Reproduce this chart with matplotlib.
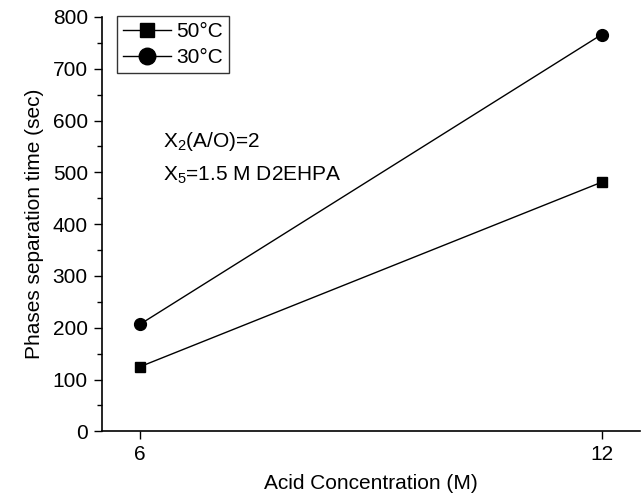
import matplotlib.pyplot as plt
from matplotlib.ticker import MultipleLocator

plt.rcParams["font.family"] = ["Liberation Sans", "DejaVu Sans"]
plt.rcParams["mathtext.fontset"] = "custom"
plt.rcParams["mathtext.rm"] = "Liberation Sans"
plt.rcParams["mathtext.it"] = "Liberation Sans:italic"

# acid concentration (M) and phase separation time (sec)
acid_conc = [6, 12]
time_50C = [125, 481]
time_30C = [207, 766]

fig = plt.figure(figsize=(6.44, 4.97), dpi=100)
ax = fig.add_axes([0.158, 0.132, 0.836, 0.834])

ax.plot(acid_conc, time_50C, color="black", lw=1, marker="s", ms=7.5, label="50°C")
ax.plot(acid_conc, time_30C, color="black", lw=1, marker="o", ms=8.5, label="30°C")

ax.set_xlim(5.5, 12.5)
ax.set_ylim(0, 800)
ax.set_xticks(acid_conc)
ax.yaxis.set_major_locator(MultipleLocator(100))
ax.yaxis.set_minor_locator(MultipleLocator(50))

for side in ["top", "right"]:
    ax.spines[side].set_visible(False)
ax.spines["left"].set_linewidth(1.2)
ax.spines["bottom"].set_linewidth(1.2)
ax.tick_params(which="major", direction="out", length=6, width=1, labelsize=15, pad=4)
ax.tick_params(which="minor", direction="out", length=3.5, width=1)

ax.set_xlabel("Acid Concentration (M)", fontsize=15, labelpad=7)
ax.set_ylabel("Phases separation time (sec)", fontsize=15, labelpad=6)

ax.text(6.29, 548, "X$_2$(A/O)=2", fontsize=15, va="baseline")
ax.text(6.29, 484, "X$_5$=1.5 M D2EHPA", fontsize=15, va="baseline")

leg = ax.legend(loc="upper left", bbox_to_anchor=(0.028, 1.003), fontsize=15,
                frameon=True, fancybox=False, edgecolor="black", markerscale=1.4,
                handlelength=2.3, handletextpad=0.25, borderpad=0.3,
                labelspacing=0.35, borderaxespad=0)
leg.get_frame().set_linewidth(1)

fig.savefig("out.png", dpi=100)
